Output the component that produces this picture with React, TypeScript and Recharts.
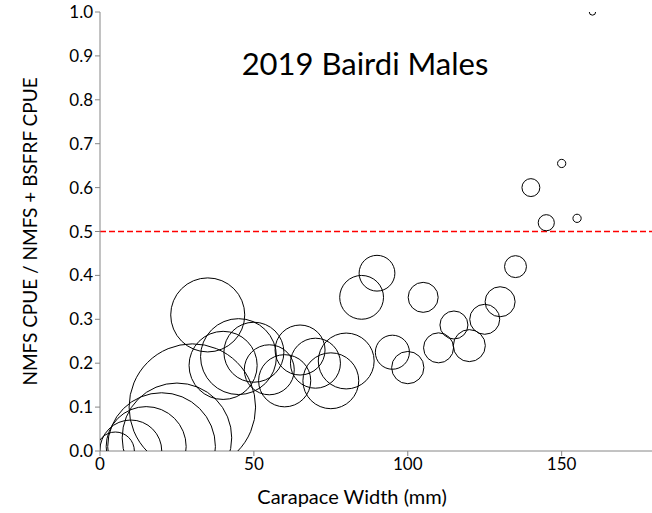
import React from 'react';
import { ScatterChart, Scatter, XAxis, YAxis, ZAxis, ReferenceLine, Label } from 'recharts';

// carapace width bins (mm)
const widths = [5, 10, 15, 20, 25, 30, 35, 40, 45, 50, 55, 60, 65, 70, 75, 80, 85, 90, 95, 100, 105, 110, 115, 120, 125, 130, 135, 140, 145, 150, 155, 160];
// NMFS / (NMFS + BSFRF) CPUE ratio
const ratios = [0.0, 0.0, 0.01, 0.01, 0.03, 0.1, 0.31, 0.195, 0.215, 0.225, 0.185, 0.16, 0.23, 0.2, 0.16, 0.205, 0.35, 0.405, 0.225, 0.19, 0.35, 0.235, 0.287, 0.24, 0.3, 0.34, 0.42, 0.6, 0.52, 0.655, 0.53, 1.0];
// bubble size (relative catch)
const bubbleSizes = [3.6, 9.6, 16, 29, 30, 40, 13.7, 11.6, 14.4, 9, 6.25, 6.8, 6.25, 6.25, 7.8, 7.8, 4.8, 3.2, 2.9, 2.6, 2.25, 2.25, 1.96, 2.56, 2.25, 2.25, 1.2, 0.8, 0.65, 0.17, 0.17, 0.1];

const xTicks = [0, 50, 100, 150];
const yTicks = [0, 0.1, 0.2, 0.3, 0.4, 0.5, 0.6, 0.7, 0.8, 0.9, 1.0];
const threshold = 0.5;

const data = widths.map((w, i) => ({ width: w, ratio: ratios[i], size: bubbleSizes[i] }));

const axisColor = '#868686';
const font = 'Lato, "Open Sans", sans-serif';

export default function App() {
  return (
    <div style={{ position: 'absolute', left: 0, top: 0, width: 652, height: 513, overflow: 'hidden', background: '#fff', fontFamily: font }}>
      <ScatterChart width={660} height={513} margin={{ top: 12, right: 6, left: 0, bottom: 0 }}>
        <XAxis
          type="number"
          dataKey="width"
          domain={[0, 180]}
          ticks={xTicks}
          allowDataOverflow
          height={62}
          stroke={axisColor}
          tickSize={5}
          tick={{ fill: '#000', fontSize: 17 }}
        >
          <Label value="Carapace Width (mm)" position="insideBottom" offset={9} dx={-25} style={{ fill: '#000', fontSize: 20 }} />
        </XAxis>
        <YAxis
          type="number"
          dataKey="ratio"
          domain={[0, 1]}
          ticks={yTicks}
          allowDataOverflow
          width={100}
          stroke={axisColor}
          tickSize={5}
          tickFormatter={(v: number) => v.toFixed(1)}
          tick={{ fill: '#000', fontSize: 17 }}
        >
          <Label value="NMFS CPUE / NMFS + BSFRF CPUE" angle={-90} position="insideLeft" offset={30} style={{ fill: '#000', fontSize: 19, textAnchor: 'middle' }} />
        </YAxis>
        <ZAxis type="number" dataKey="size" domain={[0, 40]} range={[0, 12566]} />
        <ReferenceLine y={threshold} stroke="#ff0000" strokeWidth={1.5} strokeDasharray="6 3" />
        <Scatter data={data} shape="circle" fill="none" stroke="#000" strokeWidth={1} isAnimationActive={false} />
      </ScatterChart>
      <div style={{ position: 'absolute', left: 165, width: 400, top: 44, textAlign: 'center', fontSize: 31, color: '#000' }}>
        2019 Bairdi Males
      </div>
    </div>
  );
}
